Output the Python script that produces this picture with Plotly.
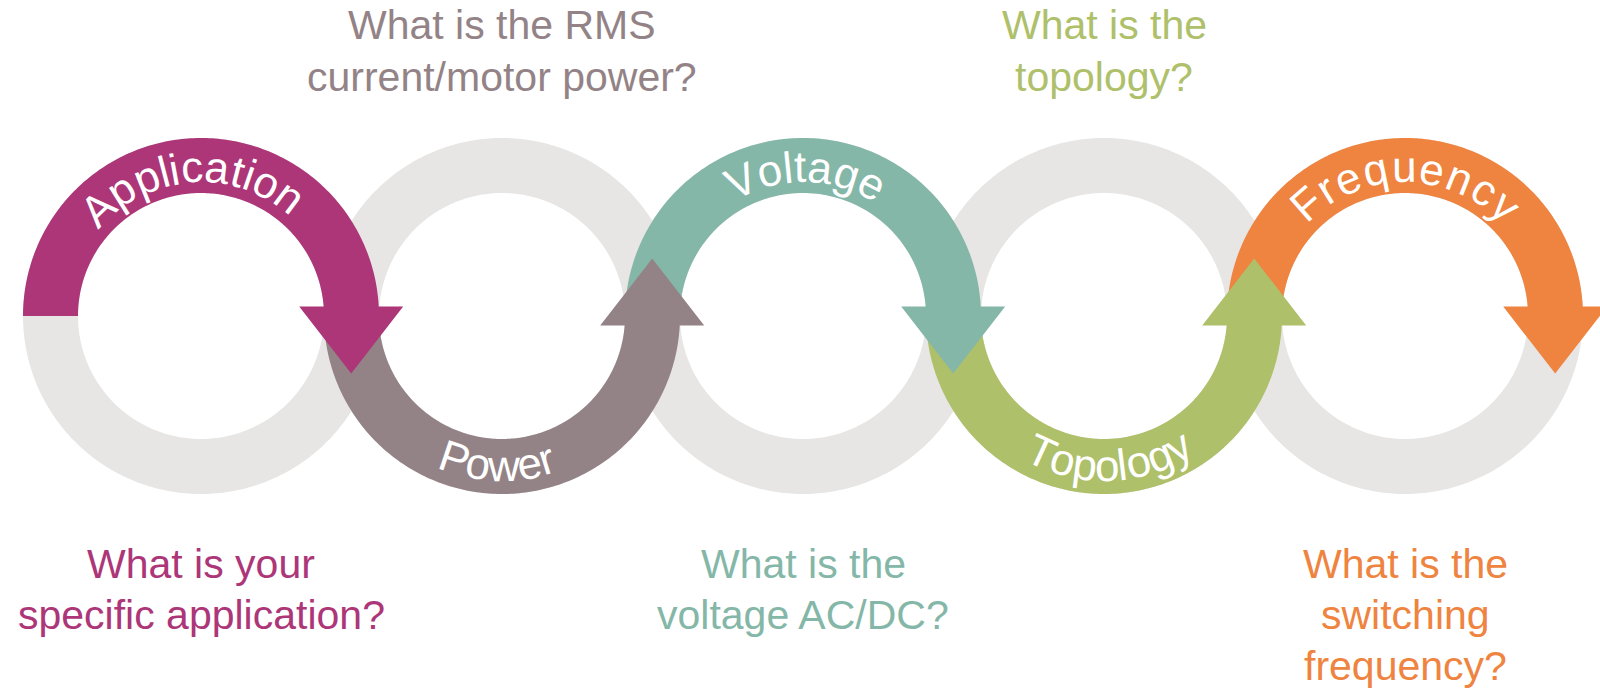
import numpy as np
import plotly.graph_objects as go

# ring centres (px) and the five steps
centers_x = [201, 502, 803, 1104, 1405]
center_y = 316

steps = ["Application", "Power", "Voltage", "Topology", "Frequency"]
step_colors = ["#AC3678", "#938386", "#84B7A8", "#AEC06A", "#EE843F"]
arc_side = ["top", "bottom", "top", "bottom", "top"]

questions = [
    ["What is your", "specific application?"],
    ["What is the RMS", "current/motor power?"],
    ["What is the", "voltage AC/DC?"],
    ["What is the", "topology?"],
    ["What is the", "switching", "frequency?"],
]
question_side = ["bottom", "top", "bottom", "top", "bottom"]

# geometry / styling
ring_grey = "#E7E6E5"
rc = 150.5          # centre-line radius
band = 55           # band width
head_w, head_len = 104, 67
end_tilt = 3.6      # arc stops a little before horizontal

label_fs = 44
label_r = {"top": 134, "bottom": 165}
label_offset = [-4, -2, 1, 2, 0]   # degrees, centre of text along arc
label_track = [0, 0, 0, 0, 1.5]    # extra spacing px per letter

q_fs = 41
q_base_top = [39, 91]
q_base_bottom = [578, 629, 680]

FONT = "Arial, Liberation Sans, sans-serif"

# Arial advance widths (em)
char_w = {"A": .667, "p": .556, "l": .222, "i": .222, "c": .5, "a": .556,
          "t": .278, "o": .556, "n": .556, "P": .667, "w": .722, "e": .556,
          "r": .333, "V": .667, "g": .556, "T": .611, "y": .5, "F": .611,
          "q": .556, "u": .556}


def ring(cx, cy):
    ro, ri = rc + band / 2, rc - band / 2
    a = np.linspace(0, 2 * np.pi, 361)
    xs = np.concatenate([cx + ro * np.cos(a), cx + ri * np.cos(a[::-1])])
    ys = np.concatenate([cy + ro * np.sin(a), cy + ri * np.sin(a[::-1])])
    return xs, ys


def arrow_arc(cx, cy, a0, a1):
    ro, ri = rc + band / 2, rc - band / 2
    a = np.radians(np.linspace(a0, a1, 180))
    ox, oy = cx + ro * np.cos(a), cy + ro * np.sin(a)
    ix, iy = cx + ri * np.cos(a[::-1]), cy + ri * np.sin(a[::-1])
    ae = np.radians(a1)
    sgn = np.sign(a1 - a0)
    px, py = cx + rc * np.cos(ae), cy + rc * np.sin(ae)
    # arrowhead base is horizontal, tip points straight down / up
    tip_dir = 1 if sgn > 0 else -1
    hx = [px + head_w / 2, px, px - head_w / 2]
    hy = [py, py + tip_dir * head_len, py]
    xs = list(ox) + [ox[-1], hx[0], hx[1], hx[2], ix[0]] + list(ix) + [ox[0]]
    ys = list(oy) + [py, hy[0], hy[1], hy[2], py] + list(iy) + [oy[0]]
    return xs, ys


fig = go.Figure()

# grey rings
for cx in centers_x:
    xs, ys = ring(cx, center_y)
    fig.add_trace(go.Scatter(x=xs, y=ys, mode="lines", fill="toself",
                             fillcolor=ring_grey, line=dict(width=0, color=ring_grey, simplify=False),
                             hoverinfo="skip"))

# coloured arrows, drawn last-to-first so each arrowhead sits on the next arc
for i in reversed(range(len(steps))):
    if arc_side[i] == "top":
        xs, ys = arrow_arc(centers_x[i], center_y, 180, 360 - end_tilt)
    else:
        xs, ys = arrow_arc(centers_x[i], center_y, 180, end_tilt)
    fig.add_trace(go.Scatter(x=xs, y=ys, mode="lines", fill="toself",
                             fillcolor=step_colors[i],
                             line=dict(width=0, color=step_colors[i], simplify=False),
                             hoverinfo="skip"))

annotations = []

# curved labels, one annotation per letter
for i, word in enumerate(steps):
    side = arc_side[i]
    rb = label_r[side]
    widths = [char_w[ch] * label_fs + label_track[i] for ch in word]
    total = sum(widths)
    pos = np.cumsum([0] + widths[:-1]) + np.array(widths) / 2 - total / 2
    rt = rb + 0.35 * label_fs if side == "top" else rb - 0.35 * label_fs
    for ch, s in zip(word, pos):
        ang = label_offset[i] + np.degrees(s / rb)
        r = np.radians(ang)
        if side == "top":
            x, y, rot = centers_x[i] + rt * np.sin(r), center_y - rt * np.cos(r), ang
        else:
            x, y, rot = centers_x[i] + rt * np.sin(r), center_y + rt * np.cos(r), -ang
        annotations.append(dict(x=x, y=y, xref="x", yref="y", text=ch, showarrow=False,
                                textangle=rot, xanchor="center", yanchor="middle",
                                font=dict(family=FONT, size=label_fs, color="white")))

# question texts
for i, lines in enumerate(questions):
    bases = q_base_top if question_side[i] == "top" else q_base_bottom
    for line, b in zip(lines, bases):
        annotations.append(dict(x=centers_x[i], y=b - 0.35 * q_fs, xref="x", yref="y",
                                text=line, showarrow=False, xanchor="center", yanchor="middle",
                                font=dict(family=FONT, size=q_fs, color=step_colors[i])))

fig.update_layout(
    width=1600, height=691,
    margin=dict(l=0, r=0, t=0, b=0),
    paper_bgcolor="white", plot_bgcolor="white",
    showlegend=False,
    xaxis=dict(range=[0, 1600], visible=False, fixedrange=True),
    yaxis=dict(range=[691, 0], visible=False, fixedrange=True),
    annotations=annotations,
)

fig.write_html("out.html", config={"displayModeBar": False},
               post_script="document.body.style.margin='0';")
